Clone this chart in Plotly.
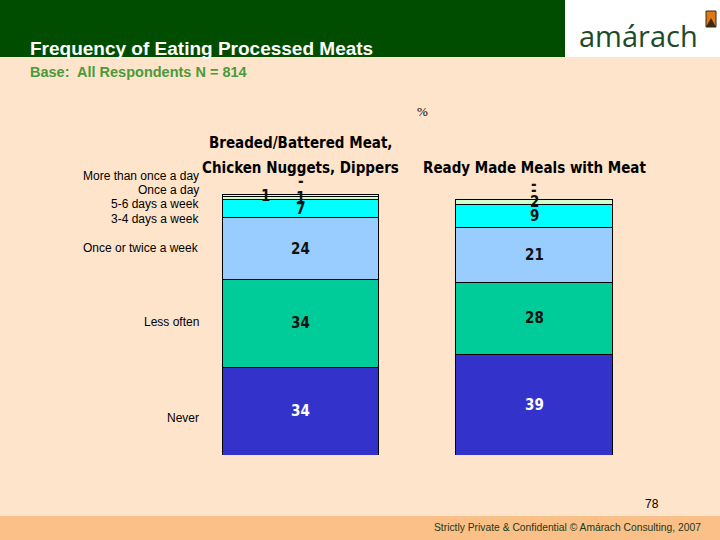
import plotly.graph_objects as go

products = ["Breaded/Battered Meat,<br>Chicken Nuggets, Dippers", "Ready Made Meals with Meat"]
levels = ["Never", "Less often", "Once or twice a week", "3-4 days a week",
          "5-6 days a week", "Once a day", "More than once a day"]
never = [34, 39]
less_often = [34, 28]
once_twice = [24, 21]
days_3_4 = [7, 9]
days_5_6 = [1, 2]
once_day = [1, 0]
more_once = [0, 0]
series = [never, less_often, once_twice, days_3_4, days_5_6, once_day, more_once]
colors = ["#3333CC", "#00CC99", "#99CCFF", "#00FFFF", "#CCFFCC", "#F2F7A8", "#FF99CC"]
label_colors = ["white", "#111111", "#111111", "#111111", "#111111", "#111111", "#111111"]

BG = "#FDE4CB"
NARROW = "DejaVu Sans Condensed, Liberation Sans Narrow, Arial Narrow, Arial"
fig = go.Figure()
xs = [0, 1]
for name, vals, col in zip(levels, series, colors):
    fig.add_trace(go.Bar(x=xs, y=vals, name=name, marker=dict(color=col, line=dict(color="black", width=1)),
                         hoverinfo="skip"))

ann = []
label_font = dict(family=NARROW, size=15, color="#111111")
for b in range(2):
    base = 0
    zero_count = 0
    for k, vals in enumerate(series):
        v = vals[b]
        if v == 0:
            ann.append(dict(x=xs[b], y=base, xref="x", yref="y", text="<b>-</b>", showarrow=False,
                            yshift=10 + 6 * zero_count + (3 if b == 0 else 0),
                            font=dict(label_font, color=label_colors[k])))
            zero_count += 1
        else:
            xshift = -35 if (k == 5 and b == 0) else 0
            ann.append(dict(x=xs[b], y=base + v / 2, xref="x", yref="y", text="<b>%d</b>" % v, showarrow=False,
                            xshift=xshift, font=dict(label_font, color=label_colors[k])))
        base += v

# bar titles
title_font = dict(family=NARROW, size=15, color="black")
ann.append(dict(x=0, y=1 - 143 / 540, xref="x", yref="paper", text="<b>Breaded/Battered Meat,</b>",
                showarrow=False, font=title_font, yanchor="middle"))
ann.append(dict(x=0, y=1 - 168 / 540, xref="x", yref="paper", text="<b>Chicken Nuggets, Dippers</b>",
                showarrow=False, font=title_font, yanchor="middle"))
ann.append(dict(x=1, y=1 - 168 / 540, xref="x", yref="paper", text="<b>Ready Made Meals with Meat</b>",
                showarrow=False, font=title_font, yanchor="middle"))

# left category labels
left_pos = {"More than once a day": 176, "Once a day": 190, "5-6 days a week": 204, "3-4 days a week": 219,
            "Once or twice a week": 248, "Less often": 322, "Never": 418}
for name in levels:
    ann.append(dict(x=201 / 720, y=1 - left_pos[name] / 540, xref="paper", yref="paper", text=name,
                    showarrow=False, xanchor="right", yanchor="middle",
                    font=dict(family="Liberation Sans, Arial", size=12, color="black")))

# header texts
ann.append(dict(x=28 / 720, y=1 - 48 / 540, xref="paper", yref="paper", text="<b>Frequency of Eating Processed Meats</b>",
                showarrow=False, xanchor="left", yanchor="middle",
                font=dict(family="Liberation Sans, Arial", size=19, color="white")))
ann.append(dict(x=28 / 720, y=1 - 72 / 540, xref="paper", yref="paper", text="<b>Base:  All Respondents N = 814</b>",
                showarrow=False, xanchor="left", yanchor="middle",
                font=dict(family="Liberation Sans, Arial", size=14.5, color="#4A9A3A")))
ann.append(dict(x=638 / 720, y=1 - 36 / 540, xref="paper", yref="paper", text="amárach",
                showarrow=False, xanchor="center", yanchor="middle",
                font=dict(family="Open Sans, DejaVu Sans", size=29, color="#1F4A28")))
ann.append(dict(x=422 / 720, y=1 - 112 / 540, xref="paper", yref="paper", text="%",
                showarrow=False, xanchor="center", yanchor="middle",
                font=dict(family="Liberation Serif, Times New Roman", size=13, color="black")))
ann.append(dict(x=652 / 720, y=1 - 504 / 540, xref="paper", yref="paper", text="78",
                showarrow=False, xanchor="center", yanchor="middle",
                font=dict(family="Liberation Sans, Arial", size=12, color="black")))
ann.append(dict(x=703 / 720, y=1 - 527 / 540, xref="paper", yref="paper",
                text="Strictly Private &amp; Confidential © Amárach Consulting, 2007",
                showarrow=False, xanchor="right", yanchor="middle",
                font=dict(family="Liberation Sans, Arial", size=10.3, color="#1A3A1A")))

shapes = [
    dict(type="rect", xref="paper", yref="paper", x0=0, x1=565 / 720, y0=1 - 57 / 540, y1=1,
         fillcolor="#004D00", line=dict(width=0), layer="below"),
    dict(type="rect", xref="paper", yref="paper", x0=565 / 720, x1=1, y0=1 - 57 / 540, y1=1,
         fillcolor="white", line=dict(width=0), layer="below"),
    dict(type="rect", xref="paper", yref="paper", x0=0, x1=1, y0=0, y1=24 / 540,
         fillcolor="#FAC088", line=dict(width=0), layer="below"),
    dict(type="rect", xref="paper", yref="paper", x0=706 / 720, x1=716 / 720, y0=1 - 27 / 540, y1=1 - 11 / 540,
         fillcolor="#E07818", line=dict(color="#3A2A10", width=1), layer="above"),
    dict(type="path", xref="paper", yref="paper",
         path="M %f %f L %f %f L %f %f Z" % (706 / 720, 1 - 27 / 540, 716 / 720, 1 - 27 / 540, 711 / 720, 1 - 18 / 540),
         fillcolor="#3A2A10", line=dict(width=0), layer="above"),
]

fig.update_layout(
    barmode="stack", bargap=0.328, showlegend=False,
    width=720, height=540, margin=dict(l=0, r=0, t=0, b=0),
    paper_bgcolor=BG, plot_bgcolor=BG,
    xaxis=dict(domain=[183.75 / 720, 650.75 / 720], range=[-0.5, 1.5], visible=False, fixedrange=True),
    yaxis=dict(domain=[85 / 540, (540 - 191.8) / 540], range=[0, 102], visible=False, fixedrange=True),
    annotations=ann, shapes=shapes,
)
fig.write_html("out.html", config={"displayModeBar": False},
               post_script="document.body.style.margin='0';document.body.style.overflow='hidden';")
